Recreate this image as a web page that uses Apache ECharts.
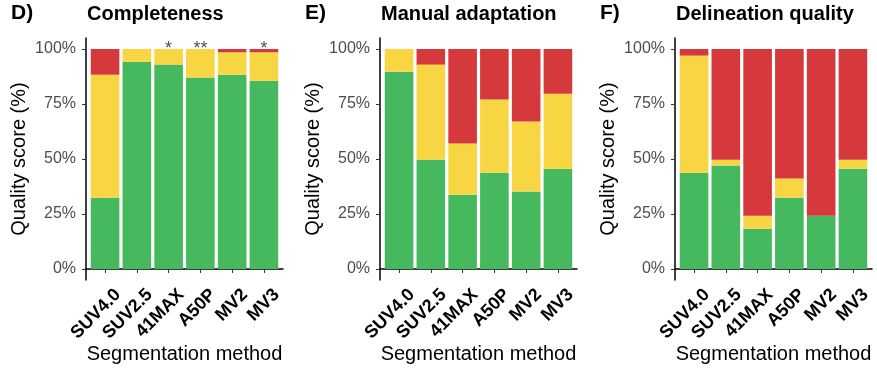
<!DOCTYPE html>
<html>
<head>
<meta charset="utf-8">
<script src="https://cdn.jsdelivr.net/npm/echarts@6/dist/echarts.min.js"></script>
<style>
    html, body {margin: 0; padding: 0; background: #fff;}
    #chart {width: 877px; height: 371px;}
</style>
</head>
<body>
<div id="chart"></div>
<script>
var methods = ["SUV4.0", "SUV2.5", "41MAX", "A50P", "MV2", "MV3"];

// D) Completeness
var complGreen = [32.4, 94.2, 92.9, 87.0, 88.3, 85.6];
var complYellow = [55.9, 5.8, 7.1, 13.0, 10.2, 12.9];
var complRed = [11.7, 0, 0, 0, 1.5, 1.5];
var complStars = ["", "", "*", "**", "", "*"];

// E) Manual adaptation
var manualGreen = [89.7, 49.7, 33.8, 43.8, 35.2, 45.6];
var manualYellow = [10.3, 43.2, 23.2, 33.2, 31.8, 34.1];
var manualRed = [0, 7.1, 43.0, 23.0, 33.0, 20.3];

// F) Delineation quality
var delinGreen = [43.8, 47.0, 18.3, 32.4, 24.2, 45.6];
var delinYellow = [53.2, 2.7, 5.9, 8.7, 0, 4.1];
var delinRed = [3.0, 50.3, 75.8, 58.9, 75.8, 50.3];

var yTicks = [0, 25, 50, 75, 100];

var panels = [
    {tag: "D)", title: "Completeness", left: 86, green: complGreen, yellow: complYellow, red: complRed, stars: complStars},
    {tag: "E)", title: "Manual adaptation", left: 380, green: manualGreen, yellow: manualYellow, red: manualRed},
    {tag: "F)", title: "Delineation quality", left: 675, green: delinGreen, yellow: delinYellow, red: delinRed}
];

var colors = {green: "#46b85e", yellow: "#f8d543", red: "#d6393b"};
var xTicks = methods.map(function (m, i) { return i + 1; });
// rotated labels hang a bit right of their tick (ggplot hjust/vjust = 1)
var labelShift = 0.4;
var xLabelPos = xTicks.map(function (t) { return t + labelShift; });
var font = "'Liberation Sans', Arial, sans-serif";

// value first so the stack runs on the y dimension
function toPoints(arr) {
    return arr.map(function (v, i) { return [v, i + 1]; });
}

var option = {
    animation: false,
    backgroundColor: "#fff",
    title: [],
    grid: [],
    xAxis: [],
    yAxis: [],
    series: []
};

panels.forEach(function (p, k) {
    option.title.push({
        text: p.tag, left: p.left - 75, top: 3, padding: 0,
        textStyle: {fontFamily: font, fontWeight: "bold", fontSize: 21, color: "#000"}
    });
    option.title.push({
        text: p.title, left: p.left + 1, top: 4, padding: 0,
        textStyle: {fontFamily: font, fontWeight: "bold", fontSize: 20, color: "#000"}
    });
    option.grid.push({left: p.left, top: 38, width: 197, height: 242, containLabel: false, outerBoundsMode: "none"});
    option.xAxis.push({
        gridIndex: k,
        type: "value",
        min: 0.4,
        max: 6.6,
        name: "Segmentation method",
        nameLocation: "middle",
        nameGap: 64,
        nameMoveOverlap: false,
        nameTextStyle: {fontFamily: font, fontSize: 20, color: "#000"},
        axisLine: {show: true, lineStyle: {color: "#000", width: 1.5}},
        axisTick: {show: true, customValues: xTicks, length: 4, lineStyle: {color: "#333"}},
        axisLabel: {
            customValues: xLabelPos,
            rotate: 45,
            margin: 12,
            fontFamily: font,
            fontWeight: "bold",
            fontSize: 18,
            color: "#000",
            formatter: function (v) { return methods[Math.round(v - labelShift) - 1]; }
        },
        splitLine: {show: false}
    });
    option.yAxis.push({
        gridIndex: k,
        type: "value",
        min: -5,
        max: 105,
        name: "Quality score (%)",
        nameLocation: "middle",
        nameGap: 57,
        nameTextStyle: {fontFamily: font, fontSize: 20, color: "#000"},
        axisLine: {show: true, lineStyle: {color: "#000", width: 1.5}},
        axisTick: {show: true, customValues: yTicks, length: 4, lineStyle: {color: "#333"}},
        axisLabel: {
            customValues: yTicks,
            margin: 10,
            fontFamily: font,
            fontSize: 16,
            color: "#4d4d4d",
            formatter: function (v) { return v + "%"; }
        },
        splitLine: {show: false}
    });
    [["green", p.green], ["yellow", p.yellow], ["red", p.red]].forEach(function (s) {
        option.series.push({
            type: "bar",
            name: s[0],
            xAxisIndex: k,
            yAxisIndex: k,
            stack: "p" + k,
            barWidth: 28.6,
            encode: {x: 1, y: 0},
            itemStyle: {color: colors[s[0]]},
            data: toPoints(s[1])
        });
    });
    if (p.stars) {
        var pts = [];
        p.stars.forEach(function (st, i) {
            if (st) pts.push({value: [i + 1, 100], star: st});
        });
        option.series.push({
            type: "scatter",
            xAxisIndex: k,
            yAxisIndex: k,
            symbolSize: 0,
            silent: true,
            label: {
                show: true,
                position: "inside",
                fontFamily: font,
                fontSize: 18,
                color: "#222",
                formatter: function (d) { return d.data.star; }
            },
            data: pts
        });
    }
});

var chart = echarts.init(document.getElementById("chart"));
chart.setOption(option);
</script>
</body>
</html>
